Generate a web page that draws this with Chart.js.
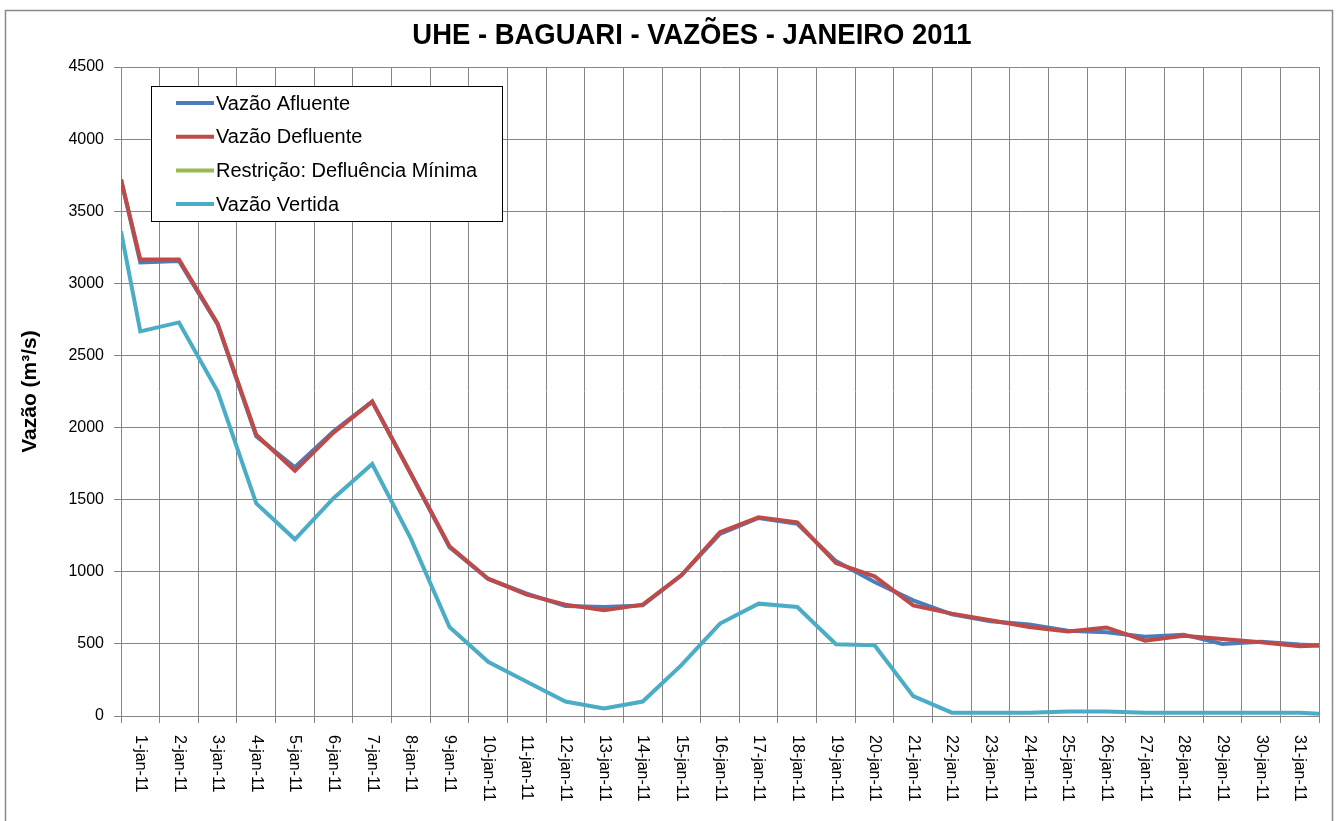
<!DOCTYPE html>
<html>
<head>
<meta charset="utf-8">
<script src="https://cdn.jsdelivr.net/npm/chart.js@4/dist/chart.umd.min.js"></script>
<style>
  html, body { margin: 0; padding: 0; background: #fff; }
  #wrap { width: 1338px; height: 821px; }
</style>
</head>
<body>
<div id="wrap"><canvas id="grafico" width="1338" height="821"></canvas></div>
<script>
// dias do mês (rótulos do eixo x)
const dias = ['1-jan-11','2-jan-11','3-jan-11','4-jan-11','5-jan-11','6-jan-11','7-jan-11','8-jan-11','9-jan-11','10-jan-11',
  '11-jan-11','12-jan-11','13-jan-11','14-jan-11','15-jan-11','16-jan-11','17-jan-11','18-jan-11','19-jan-11','20-jan-11',
  '21-jan-11','22-jan-11','23-jan-11','24-jan-11','25-jan-11','26-jan-11','27-jan-11','28-jan-11','29-jan-11','30-jan-11','31-jan-11']

// a série começa e termina na borda do gráfico (meio dia antes/depois)
const posX = [0.5, ...dias.map((d, i) => i + 1), 31.5]

const afluente = [3720, 3145, 3155, 2715, 1940, 1725, 1975, 2180, 1680, 1170, 950, 848, 762, 756, 767, 975, 1263, 1373, 1332, 1074, 929, 802, 705, 657, 634, 591, 580, 550, 564, 499, 515, 495, 488]
const defluente = [3720, 3165, 3165, 2720, 1950, 1700, 1965, 2180, 1680, 1177, 952, 841, 772, 733, 772, 975, 1274, 1378, 1343, 1060, 968, 767, 710, 664, 617, 586, 614, 522, 557, 534, 511, 483, 488]
const restricao = []
const vertida = [3360, 2667, 2729, 2251, 1474, 1225, 1510, 1747, 1230, 617, 376, 238, 100, 53, 100, 353, 641, 779, 756, 498, 491, 138, 23, 23, 23, 32, 32, 23, 23, 23, 23, 23, 15]

const yTicks = [0, 500, 1000, 1500, 2000, 2500, 3000, 3500, 4000, 4500]

const CINZA = '#868686'
const pts = arr => arr.map((v, i) => ({ x: posX[i], y: v }))

const moldura = {
  id: 'moldura',
  beforeDraw(chart) {
    const c = chart.ctx
    c.save()
    c.fillStyle = '#fff'
    c.fillRect(0, 0, chart.width, chart.height)
    c.strokeStyle = '#8a8a8a'; c.lineWidth = 1.5
    c.strokeRect(5.5, 10.5, 1327, 900)
    // título em fonte condensada (escala horizontal)
    c.fillStyle = '#000'
    c.font = 'bold 30px "Liberation Sans", Arial, sans-serif'
    c.textAlign = 'center'; c.textBaseline = 'middle'
    c.translate(692, 36)
    c.scale(0.915, 1)
    c.fillText('UHE - BAGUARI - VAZÕES - JANEIRO 2011', 0, 0)
    c.restore()
  },
  afterDraw(chart) {
    // rótulos do eixo x, girados lendo de cima para baixo
    const c = chart.ctx, sx = chart.scales.x
    c.save()
    c.fillStyle = '#000'
    c.font = '16px "Liberation Sans", Arial, sans-serif'
    c.textAlign = 'left'; c.textBaseline = 'middle'
    dias.forEach((d, i) => {
      c.save()
      c.translate(sx.getPixelForValue(i + 1), 735)
      c.rotate(Math.PI / 2)
      c.fillText(d, 0, 0)
      c.restore()
    })
    // legenda dentro da área do gráfico
    const ds = chart.data.datasets
    c.fillStyle = '#fff'
    c.fillRect(151.5, 86.5, 351, 135)
    c.strokeStyle = '#000'; c.lineWidth = 1
    c.strokeRect(151.5, 86.5, 351, 135)
    c.font = '20px "Liberation Sans", Arial, sans-serif'
    ds.forEach((d, i) => {
      const y = 103 + i * 33.7
      c.strokeStyle = d.borderColor; c.lineWidth = 4
      c.beginPath(); c.moveTo(176, y); c.lineTo(214, y); c.stroke()
      c.fillStyle = '#000'
      c.fillText(d.label, 216, y + 1)
    })
    c.restore()
  }
}

new Chart(document.getElementById('grafico'), {
  type: 'line',
  data: {
    datasets: [
      { label: 'Vazão Afluente', data: pts(afluente), borderColor: '#4a7ebb', order: 3 },
      { label: 'Vazão Defluente', data: pts(defluente), borderColor: '#be4b48', order: 2 },
      { label: 'Restrição: Defluência Mínima', data: pts(restricao), borderColor: '#98b954', order: 1 },
      { label: 'Vazão Vertida', data: pts(vertida), borderColor: '#4bacc6', order: 0 },
    ],
  },
  options: {
    responsive: false, animation: false, devicePixelRatio: 1,
    layout: { padding: { top: 67, right: 19, bottom: 0, left: 0 } },
    elements: { line: { borderWidth: 4, tension: 0, fill: false }, point: { radius: 0 } },
    plugins: { legend: { display: false }, title: { display: false }, tooltip: { enabled: false } },
    scales: {
      x: {
        type: 'linear', min: 0.5, max: 31.5,
        afterBuildTicks: s => { s.ticks = posX.concat(dias.map((d, i) => i + 1.5)).filter((v, i, a) => a.indexOf(v) === i).sort((a, b) => a - b).map(v => ({ value: v })) },
        afterFit: s => { s.height = 105 },
        ticks: { display: false },
        grid: {
          color: ctx => Number.isInteger(ctx.tick && ctx.tick.value) ? 'rgba(0,0,0,0)' : CINZA,
          tickColor: ctx => Number.isInteger(ctx.tick && ctx.tick.value) ? 'rgba(0,0,0,0)' : CINZA,
          lineWidth: 1, tickLength: 7,
        },
        border: { color: CINZA, width: 1 },
      },
      y: {
        min: 0, max: 4500,
        afterBuildTicks: s => { s.ticks = yTicks.map(v => ({ value: v })) },
        afterFit: s => { s.width = 121 },
        ticks: { color: '#000', padding: 10, callback: v => String(v), font: { family: '"Liberation Sans", Arial, sans-serif', size: 16 } },
        grid: { color: CINZA, tickColor: CINZA, lineWidth: 1, tickLength: 7 },
        border: { color: CINZA, width: 1 },
        title: { display: true, text: 'Vazão (m³/s)', color: '#000', padding: { top: 18, bottom: 0 }, font: { family: '"Liberation Sans", Arial, sans-serif', size: 21, weight: 'bold' } },
      },
    },
  },
  plugins: [moldura],
})
</script>
</body>
</html>
